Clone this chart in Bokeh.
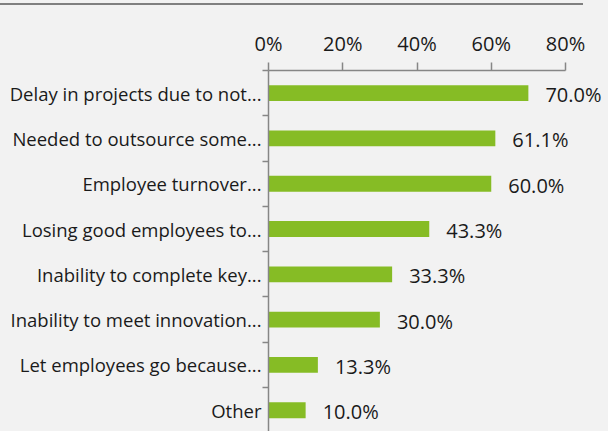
from bokeh.plotting import figure
from bokeh.models import Range1d, FixedTicker, PrintfTickFormatter, ColumnDataSource, Div
from bokeh.layouts import column
from bokeh.core.properties import value
from bokeh.embed import file_html
from bokeh.resources import INLINE

categories = [
    "Delay in projects due to not...",
    "Needed to outsource some...",
    "Employee turnover...",
    "Losing good employees to...",
    "Inability to complete key...",
    "Inability to meet innovation...",
    "Let employees go because...",
    "Other",
]
percent_values = [70.0, 61.1, 60.0, 43.3, 33.3, 30.0, 13.3, 10.0]
value_labels = ["70.0%", "61.1%", "60.0%", "43.3%", "33.3%", "30.0%", "13.3%", "10.0%"]
x_ticks = [0, 20, 40, 60, 80]

BG = "#f2f2f2"
AXIS = "#868686"
TEXT = "#1a1a1a"
FONT = "Open Sans"

idx = list(range(len(categories)))
src = ColumnDataSource(dict(y=idx, v=percent_values, lab=value_labels))

# frame spans to the right canvas edge so value labels are not clipped;
# the axis line itself is bounded to 0..80
x_end = 80 * (608 - 268) / (565 - 268)

p = figure(
    width=608, height=426,
    x_range=Range1d(0, x_end), y_range=Range1d(7.47, -0.5),
    x_axis_location="above",
    output_backend="svg", toolbar_location=None,
    min_border_left=268, min_border_right=0, min_border_top=65, min_border_bottom=0,
    background_fill_color=BG, border_fill_color=BG, outline_line_color=None,
)
p.grid.visible = False

p.hbar(y="y", left=0, right="v", height=0.35, fill_color="#86bc25",
       line_color=None, source=src)
p.text(x="v", y="y", text="lab", source=src, x_offset=17, y_offset=1.5,
       text_baseline="middle", text_align="left",
       text_font=value(FONT), text_font_size="20px", text_color=TEXT)

xa = p.xaxis[0]
xa.ticker = FixedTicker(ticks=x_ticks)
xa.bounds = (0, 80)
xa.formatter = PrintfTickFormatter(format="%d%%")
xa.axis_line_color = AXIS
xa.axis_line_width = 1.5
xa.major_tick_line_color = AXIS
xa.major_tick_line_width = 1.5
xa.major_tick_out = 8
xa.major_tick_in = 0
xa.minor_tick_line_color = None
xa.major_label_text_font = FONT
xa.major_label_text_font_size = "20px"
xa.major_label_text_color = TEXT
xa.major_label_standoff = 6

ya = p.yaxis[0]
ya.ticker = FixedTicker(ticks=idx, minor_ticks=[i - 0.5 for i in range(len(categories) + 1)])
ya.major_label_overrides = {i: c for i, c in zip(idx, categories)}
ya.axis_line_color = AXIS
ya.axis_line_width = 1.5
ya.major_tick_line_color = None
ya.major_tick_out = 0
ya.major_tick_in = 0
ya.minor_tick_line_color = AXIS
ya.minor_tick_line_width = 1.5
ya.minor_tick_out = 6
ya.minor_tick_in = 0
ya.major_label_text_font = FONT
ya.major_label_text_font_size = "18.5px"
ya.major_label_text_color = TEXT
ya.major_label_standoff = 1

gap = Div(text="", width=608, height=3, margin=0, styles={"background-color": BG})
top_line = Div(text="", width=583, height=2, margin=0,
               styles={"background-color": "#808080"})

layout = column(gap, top_line, p, spacing=0, styles={"background-color": BG})

open("out.html", "w").write(file_html(layout, INLINE))
